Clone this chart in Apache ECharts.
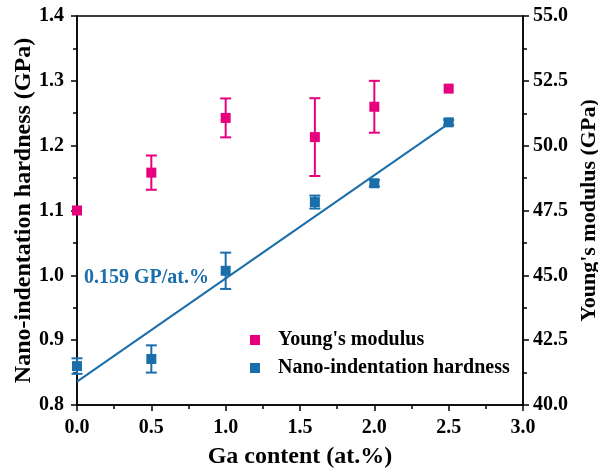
<!DOCTYPE html>
<html>
<head>
<meta charset="utf-8">
<script src="https://cdn.jsdelivr.net/npm/echarts@6/dist/echarts.min.js"></script>
<style>
  html, body { margin: 0; padding: 0; background: #fff; }
  #chart { width: 598px; height: 472px; }
</style>
</head>
<body>
<div id="chart"></div>
<script>
// Ga content (at.%)
const gaContent = [0, 0.5, 1.0, 1.6, 2.0, 2.5];
// Young's modulus (GPa), right axis
const youngMod = [47.5, 48.96, 51.07, 50.33, 51.5, 52.2];
const youngErr = [0, 0.66, 0.75, 1.5, 1.0, 0];
// nano-indentation hardness (GPa), left axis
const hardness = [0.860, 0.871, 1.007, 1.113, 1.142, 1.236];
const hardErr = [0.012, 0.021, 0.028, 0.010, 0.005, 0.004];
// linear fit of hardness
const fitX = [0, 2.5];
const fitY = [0.836, 1.234];

const PINK = '#e6007e';
const BLUE = '#1a6eaa';
const FONT = '"Liberation Serif", "Times New Roman", serif';

function errBars(vals, errs) {
  return gaContent.map((x, i) => [x, vals[i] - errs[i], vals[i] + errs[i]]);
}

function renderErr(color) {
  return function (params, api) {
    const lo = api.coord([api.value(0), api.value(1)]);
    const hi = api.coord([api.value(0), api.value(2)]);
    if (Math.abs(hi[1] - lo[1]) < 1) return;
    const w = 5.5;
    const st = { stroke: color, lineWidth: 2 };
    return {
      type: 'group',
      children: [
        { type: 'line', shape: { x1: lo[0], y1: lo[1], x2: hi[0], y2: hi[1] }, style: st },
        { type: 'line', shape: { x1: lo[0] - w, y1: lo[1], x2: lo[0] + w, y2: lo[1] }, style: st },
        { type: 'line', shape: { x1: hi[0] - w, y1: hi[1], x2: hi[0] + w, y2: hi[1] }, style: st }
      ]
    };
  };
}

const axisCommon = {
  axisLine: { show: true, lineStyle: { color: '#000', width: 1.5 } },
  axisTick: { show: true, inside: false, length: 6, lineStyle: { color: '#000', width: 1.5 } },
  minorTick: { show: true, splitNumber: 2, length: 4, lineStyle: { color: '#000', width: 1.5 } },
  splitLine: { show: false },
  axisLabel: { color: '#000', fontFamily: FONT, fontWeight: 'bold', fontSize: 20, formatter: v => v.toFixed(1) },
  nameTextStyle: { color: '#000', fontFamily: FONT, fontWeight: 'bold', fontSize: 24 },
  nameMoveOverlap: false
};

const chart = echarts.init(document.getElementById('chart'));
chart.setOption({
  backgroundColor: '#fff',
  animation: false,
  grid: {
    left: 77, right: 75, top: 16, bottom: 67,
    containLabel: false, outerBoundsMode: 'none',
    show: true, borderColor: '#000', borderWidth: 1.5
  },
  legend: {
    orient: 'vertical',
    left: 245,
    top: 325,
    itemWidth: 10,
    itemHeight: 10,
    itemGap: 8,
    data: [
      { name: "Young's modulus", icon: 'rect', itemStyle: { color: PINK, opacity: 1 } },
      { name: 'Nano-indentation hardness', icon: 'rect', itemStyle: { color: BLUE, opacity: 1 } }
    ],
    textStyle: { color: '#000', fontFamily: FONT, fontWeight: 'bold', fontSize: 20, lineHeight: 20, padding: [0, 0, 0, 13] }
  },
  xAxis: Object.assign({}, axisCommon, {
    type: 'value', min: 0, max: 3, interval: 0.5,
    name: 'Ga content (at.%)', nameLocation: 'middle', nameGap: 40,
    axisLabel: Object.assign({}, axisCommon.axisLabel, { margin: 13 })
  }),
  yAxis: [
    Object.assign({}, axisCommon, {
      type: 'value', position: 'left', min: 0.8, max: 1.4, interval: 0.1,
      name: 'Nano-indentation hardness (GPa)', nameLocation: 'middle', nameGap: 41, nameRotate: 90,
      axisLabel: Object.assign({}, axisCommon.axisLabel, { margin: 13 })
    }),
    Object.assign({}, axisCommon, {
      type: 'value', position: 'right', min: 40, max: 55, interval: 2.5,
      name: "Young's modulus (GPa)", nameLocation: 'middle', nameGap: 55, nameRotate: 90,
      axisLabel: Object.assign({}, axisCommon.axisLabel, { margin: 10 }),
      nameTextStyle: Object.assign({}, axisCommon.nameTextStyle, { fontSize: 22 })
    })
  ],
  graphic: [{
    type: 'text', left: 84, top: 268, z: 10,
    style: { text: '0.159 GP/at.%', fill: BLUE, font: 'bold 20px ' + FONT }
  }],
  series: [
    {
      type: 'line', name: 'fit', yAxisIndex: 0, symbol: 'none', silent: true,
      data: fitX.map((x, i) => [x, fitY[i]]),
      lineStyle: { color: BLUE, width: 2 }
    },
    {
      type: 'custom', name: 'hardErr', yAxisIndex: 0, renderItem: renderErr(BLUE),
      data: errBars(hardness, hardErr), z: 3
    },
    {
      type: 'custom', name: 'youngErr', yAxisIndex: 1, renderItem: renderErr(PINK),
      data: errBars(youngMod, youngErr), z: 3
    },
    {
      type: 'scatter', name: "Young's modulus", yAxisIndex: 1, symbol: 'rect', symbolSize: 10,
      itemStyle: { color: PINK, opacity: 1 }, z: 4,
      data: gaContent.map((x, i) => [x, youngMod[i]])
    },
    {
      type: 'scatter', name: 'Nano-indentation hardness', yAxisIndex: 0, symbol: 'rect', symbolSize: 10,
      itemStyle: { color: BLUE, opacity: 1 }, z: 4,
      data: gaContent.map((x, i) => [x, hardness[i]])
    }
  ]
});
</script>
</body>
</html>
